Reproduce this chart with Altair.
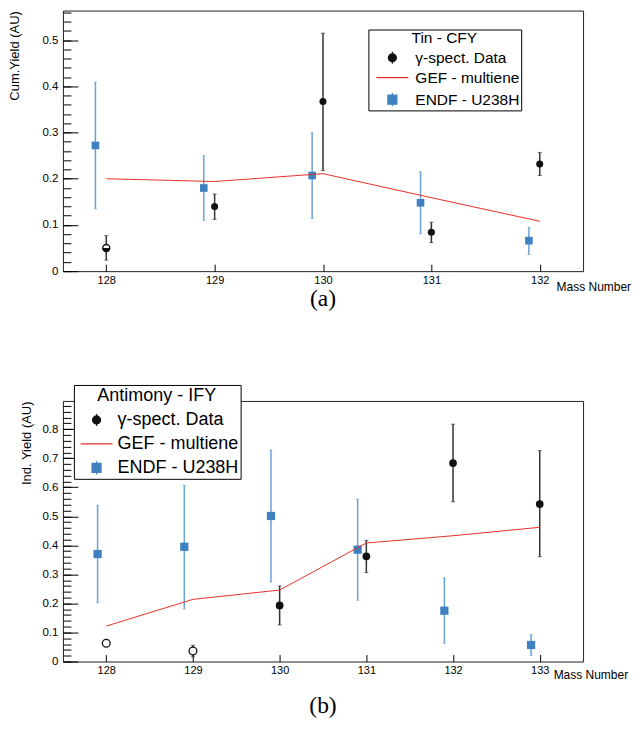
import altair as alt
import pandas as pd
import numpy as np

FONT = "Liberation Sans"
LBL_DATA = "γ-spect. Data"
LBL_GEF = "GEF - multiene"
LBL_ENDF = "ENDF - U238H"

# ---------------- Panel (a): Tin - CFY ----------------
tin_mass = [128, 129, 130, 131, 132]
tin_data = [0.050, 0.140, 0.367, 0.084, 0.232]
tin_data_lo = [0.024, 0.112, 0.218, 0.062, 0.207]
tin_data_hi = [0.077, 0.167, 0.515, 0.106, 0.257]
tin_marker = ["half", "filled", "filled", "filled", "filled"]
tin_gef = [0.200, 0.194, 0.211, 0.159, 0.108]
tin_endf_x = [127.9, 128.9, 129.9, 130.9, 131.9]
tin_endf = [0.272, 0.180, 0.207, 0.148, 0.066]
tin_endf_lo = [0.135, 0.110, 0.114, 0.081, 0.036]
tin_endf_hi = [0.409, 0.250, 0.300, 0.215, 0.095]

# ---------------- Panel (b): Antimony - IFY ----------------
sb_mass = [128, 129, 130, 131, 132, 133]
sb_data = [0.063, 0.036, 0.193, 0.362, 0.683, 0.542]
sb_data_lo = [None, 0.016, 0.126, 0.306, 0.550, 0.361]
sb_data_hi = [None, 0.056, 0.260, 0.417, 0.817, 0.726]
sb_marker = ["open", "open", "filled", "filled", "filled", "filled"]
sb_gef = [0.122, 0.214, 0.246, 0.408, 0.433, 0.462]
sb_endf_x = [127.9, 128.9, 129.9, 130.9, 131.9, 132.9]
sb_endf = [0.370, 0.395, 0.501, 0.385, 0.175, 0.057]
sb_endf_lo = [0.203, 0.181, 0.274, 0.211, 0.063, 0.021]
sb_endf_hi = [0.538, 0.606, 0.728, 0.559, 0.288, 0.093]

BLACK = "#111111"
BAR_BLACK = "#333333"
RED = "#e8302a"
BLUE = "#3f80c0"
BAR_BLUE = "#6aa2d6"

HALF_DISK = "M-1,0A1,1 0 0,0 1,0Z"
# legend symbols (unit = 6 px with symbolSize 144)
SYM_DATA = "M0,-1V1M0.67,0A0.67,0.67 0 1,1 -0.67,0A0.67,0.67 0 1,1 0.67,0Z"
SYM_GEF = "M-2.67,0H2.67"
SYM_ENDF = "M-0.75,-0.75H0.75V0.75H-0.75ZM0,-1.1V1.1"


def panel(mass, data, dlo, dhi, marker, gef, ex, e, elo, ehi,
          xdom, ydom, ymaj, ytitle, ytitle_x, xtitle_x, xtitle_y,
          leg_title, leg_x, leg_y, leg_font, leg_row, leg_tpad, leg_pad, sym_off, lab_off,
          caption, cap_off, msize):
    w, h = 521, 261
    xs = alt.Scale(domain=xdom, nice=False, zero=False)
    ys = alt.Scale(domain=ydom, nice=False, zero=False)

    xaxis = alt.Axis(values=mass, format="d", orient="bottom", offset=-7, tickSize=7,
                     domain=False, grid=False, labelPadding=3, labelFont=FONT,
                     labelFontSize=11, labelColor="black", tickColor="black",
                     title="Mass Number", titleFont=FONT, titleFontSize=12,
                     titleFontWeight="normal", titleColor="black",
                     titleX=xtitle_x, titleY=xtitle_y, titleAlign="left",
                     titleBaseline="alphabetic", labelFlush=False)
    X = alt.X("x:Q", scale=xs, axis=xaxis)

    ymaj_vals = [round(v * 0.1, 1) for v in range(0, ymaj + 1)]
    ymin_vals = [round(v * 0.02, 2) for v in range(0, int(ydom[1] / 0.02) + 1)]
    yaxis_major = alt.Axis(values=ymaj_vals, format=".1~f", orient="left", offset=-15,
                           tickSize=15, domain=False, grid=False, labelPadding=5,
                           labelFont=FONT, labelFontSize=11.5, labelColor="black",
                           tickColor="black", title=ytitle, titleFont=FONT,
                           titleFontSize=13, titleFontWeight="normal", titleColor="black",
                           titleX=ytitle_x, titleY=0, titleAlign="right",
                           titleBaseline="middle", titleAngle=-90)
    yaxis_minor = alt.Axis(values=ymin_vals, orient="left", offset=-8, tickSize=8,
                           domain=False, grid=False, labels=False, title=None,
                           tickColor="black")

    df_d = pd.DataFrame({"x": mass, "y": data, "lo": dlo, "hi": dhi, "m": marker})
    df_g = pd.DataFrame({"x": mass, "y": gef})
    df_e = pd.DataFrame({"x": ex, "y": e, "lo": elo, "hi": ehi})
    caps_d = pd.concat([df_d[["x", "lo"]].rename(columns={"lo": "y"}),
                        df_d[["x", "hi"]].rename(columns={"hi": "y"})]).dropna()
    caps_e = pd.concat([df_e[["x", "lo"]].rename(columns={"lo": "y"}),
                        df_e[["x", "hi"]].rename(columns={"hi": "y"})])
    df_leg = pd.DataFrame({"s": [LBL_DATA, LBL_GEF, LBL_ENDF]})

    Ymaj = alt.Y("y:Q", scale=ys, axis=yaxis_major)
    Ymin = alt.Y("y:Q", scale=ys, axis=yaxis_minor)
    Yn = alt.Y("y:Q", scale=ys, axis=None)

    l_minor = alt.Chart(df_g).mark_line(opacity=0).encode(x=X, y=Ymin)

    # ENDF error bars
    l_ebar = alt.Chart(df_e).mark_rule(color=BAR_BLUE, strokeWidth=1.5).encode(
        x=X, y=alt.Y("lo:Q", scale=ys, axis=None), y2="hi:Q")
    l_ecap = alt.Chart(caps_e).mark_tick(color=BAR_BLUE, orient="horizontal", size=3,
                                         thickness=1).encode(x=X, y=Yn)
    l_esq = alt.Chart(df_e).mark_point(shape="square", filled=True, color=BLUE, size=msize + 8,
                                       opacity=1).encode(x=X, y=Yn)

    # data error bars
    l_dbar = alt.Chart(df_d).mark_rule(color=BAR_BLACK, strokeWidth=1.5).encode(
        x=X, y=alt.Y("lo:Q", scale=ys, axis=None), y2="hi:Q")
    l_dcap = alt.Chart(caps_d).mark_tick(color=BAR_BLACK, orient="horizontal", size=4,
                                         thickness=1).encode(x=X, y=Yn)

    # GEF line
    l_gef = alt.Chart(df_g).mark_line(color=RED, strokeWidth=1).encode(x=X, y=Ymaj)

    l_dfill = alt.Chart(df_d).transform_filter(alt.datum.m == "filled").mark_point(
        shape="circle", filled=True, color=BLACK, size=msize, opacity=1).encode(x=X, y=Yn)
    l_dopen = alt.Chart(df_d).transform_filter(alt.datum.m != "filled").mark_point(
        shape="circle", filled=True, fill="white", stroke=BLACK, strokeWidth=1.3,
        size=msize, opacity=1).encode(x=X, y=Yn)
    half_size = (2 * np.sqrt(msize / np.pi)) ** 2
    l_dhalf = alt.Chart(df_d).transform_filter(alt.datum.m == "half").mark_point(
        shape=HALF_DISK, filled=True, color=BLACK, size=float(half_size), opacity=1).encode(x=X, y=Yn)

    leg = alt.Legend(orient="none", legendX=leg_x, legendY=leg_y, title=leg_title,
                     titleAnchor="middle", titleFont=FONT, titleFontSize=leg_font,
                     titleFontWeight="normal", titleColor="black", titlePadding=leg_tpad,
                     labelFont=FONT, labelFontSize=leg_font, labelColor="black",
                     labelLimit=400,
                     strokeColor="black", fillColor="white", padding=leg_pad,
                     rowPadding=leg_row, symbolSize=144, symbolStrokeWidth=1.2,
                     symbolOffset=sym_off, labelOffset=lab_off, symbolOpacity=1)
    dom = [LBL_DATA, LBL_GEF, LBL_ENDF]
    l_leg = alt.Chart(df_leg).mark_point(opacity=0, filled=True).encode(
        shape=alt.Shape("s:N", scale=alt.Scale(domain=dom, range=[SYM_DATA, SYM_GEF, SYM_ENDF]), legend=leg),
        fill=alt.Fill("s:N", scale=alt.Scale(domain=dom, range=[BLACK, RED, BLUE]), legend=leg),
        stroke=alt.Stroke("s:N", scale=alt.Scale(domain=dom, range=[BLACK, RED, BLUE]), legend=leg),
    )

    ch = alt.layer(l_minor, l_ebar, l_ecap, l_esq, l_dbar, l_dcap, l_gef,
                   l_dfill, l_dopen, l_dhalf, l_leg).resolve_axis(y="independent").properties(
        width=w, height=h,
        title=alt.TitleParams(caption, orient="bottom", anchor="middle", font="Liberation Serif",
                              fontSize=23.5, fontWeight="normal", color="black", offset=cap_off))
    return ch


top = panel(tin_mass, tin_data, tin_data_lo, tin_data_hi, tin_marker, tin_gef,
            tin_endf_x, tin_endf, tin_endf_lo, tin_endf_hi,
            [127.6, 132.4], [0, 0.564], 5, "Cum.Yield (AU)", -63, 494, 26,
            "Tin - CFY", 306, 19, 15.5, 3, 4, 1, 15.25, 15.25, "(a)", -5, 50)
bot = panel(sb_mass, sb_data, sb_data_lo, sb_data_hi, sb_marker, sb_gef,
            sb_endf_x, sb_endf, sb_endf_lo, sb_endf_hi,
            [127.5, 133.5], [0, 0.897], 8, "Ind. Yield (AU)", -51, 491, 24,
            "Antimony - IFY", 11, -16, 18, 6, 6, 2, 11.7, 12, "(b)", 14, 60)

chart = alt.vconcat(top, bot, spacing=130, bounds="flush").resolve_scale(
    shape="independent", fill="independent", stroke="independent"
).resolve_legend(
    shape="independent", fill="independent", stroke="independent"
).properties(
    padding={"left": 0, "top": 1, "right": 0, "bottom": 0}
).configure_view(stroke="#222222", strokeWidth=1)

chart.save("out.html", embed_options={"renderer": "svg", "actions": False})
